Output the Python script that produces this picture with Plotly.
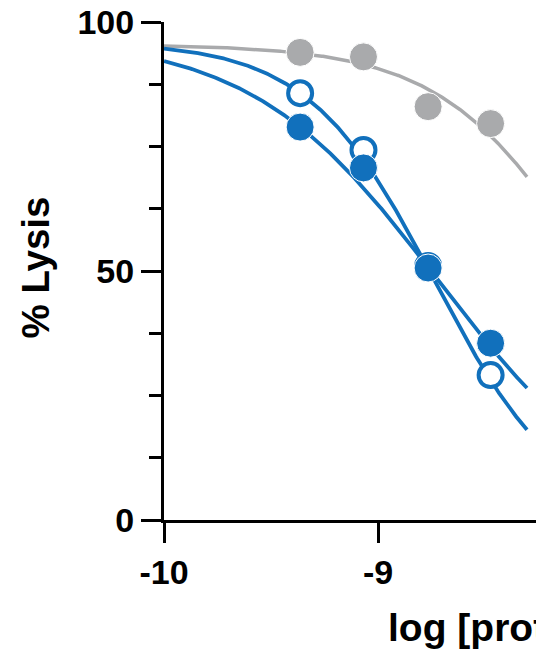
import numpy as np
import plotly.graph_objects as go

# Data (log concentration, % lysis)
log_conc = [-9.364, -9.068, -8.766, -8.474]
gray_vals = [93.9, 93.0, 83.0, 79.6]
open_vals = [85.7, 74.3, 51.0, 29.1]
filled_vals = [78.9, 70.7, 50.6, 35.5]

# 4PL fit parameters: (top, bottom, logEC50, hill)
gray_fit = (95.5, 0.0, -7.969, 1.234)
open_fit = (96.0, 0.0, -8.736, 1.466)
filled_fit = (97.0, 0.0, -8.727, 1.004)

y_tickvals = [0, 50, 100]
x_tickvals = [-10, -9]
x_ticktext = ["-10", "-9"]

BLUE = "#1170BC"
GRAY = "#A9AAAC"
FONT = "Liberation Sans"

def logistic(x, p):
    top, bottom, c, h = p
    return bottom + (top - bottom) / (1 + 10 ** ((x - c) * h))

xc = np.linspace(-10, -8.304, 300)

fig = go.Figure()
fig.add_trace(go.Scatter(x=xc, y=logistic(xc, gray_fit), mode="lines",
                         line=dict(color=GRAY, width=3.5), hoverinfo="skip"))
fig.add_trace(go.Scatter(x=xc, y=logistic(xc, open_fit), mode="lines",
                         line=dict(color=BLUE, width=3.8), hoverinfo="skip"))
fig.add_trace(go.Scatter(x=xc, y=logistic(xc, filled_fit), mode="lines",
                         line=dict(color=BLUE, width=3.8), hoverinfo="skip"))
fig.add_trace(go.Scatter(x=log_conc, y=gray_vals, mode="markers",
                         marker=dict(color=GRAY, size=28, line=dict(color="white", width=1))))
fig.add_trace(go.Scatter(x=log_conc, y=open_vals, mode="markers",
                         marker=dict(color="white", size=24, line=dict(color=BLUE, width=4))))
fig.add_trace(go.Scatter(x=log_conc, y=filled_vals, mode="markers",
                         marker=dict(color=BLUE, size=28, line=dict(color="white", width=1))))

fig.update_layout(
    width=536, height=655,
    margin=dict(l=164, r=0, t=22, b=135),
    plot_bgcolor="white", paper_bgcolor="white",
    showlegend=False,
    font=dict(family=FONT, color="black"),
)
fig.update_xaxes(
    range=[-10, -8.262], showgrid=False, zeroline=False,
    showline=True, linewidth=3, linecolor="black",
    tickmode="array", tickvals=x_tickvals, ticktext=x_ticktext,
    ticks="outside", ticklen=20, tickwidth=3, tickcolor="black",
    tickfont=dict(family=FONT, size=34, weight="bold", color="black"),
)
fig.update_yaxes(
    range=[0, 100], showgrid=False, zeroline=False,
    showline=True, linewidth=3, linecolor="black",
    tickmode="array", tickvals=y_tickvals,
    ticks="outside", ticklen=20, tickwidth=3, tickcolor="black",
    tickfont=dict(family=FONT, size=34, weight="bold", color="black"),
    minor=dict(dtick=12.5, tick0=0, ticks="outside", ticklen=12, tickwidth=3, tickcolor="black"),
)
fig.add_annotation(text="% Lysis", xref="paper", yref="paper", x=(35 - 164) / 372, y=(655 - 135 - 267.5) / 498,
                   xanchor="center", yanchor="middle", textangle=-90, showarrow=False,
                   font=dict(family=FONT, size=38.5, weight="bold", color="black"))
fig.add_annotation(text="log [protein] (M)", xref="paper", yref="paper", x=(386 - 164) / 372, y=-(627 - 520) / 498,
                   xanchor="left", yanchor="middle", showarrow=False,
                   font=dict(family=FONT, size=39, weight="bold", color="black"))

fig.write_html("out.html")
